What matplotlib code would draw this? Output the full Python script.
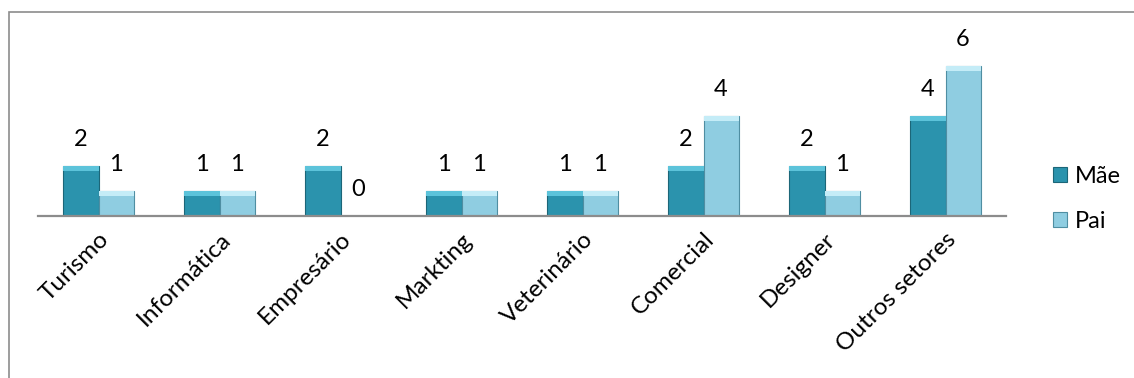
import numpy as np
import matplotlib.pyplot as plt
from matplotlib.patches import Rectangle

categorias = ['Turismo', 'Informática', 'Empresário', 'Markting', 'Veterinário',
              'Comercial', 'Designer', 'Outros setores']
mae = [2, 1, 2, 1, 1, 2, 2, 4]
pai = [1, 1, 0, 1, 1, 4, 1, 6]

cor_mae = '#2b93ad'
cor_pai = '#8fcde1'

plt.rcParams['font.family'] = ['Lato', 'DejaVu Sans']

fig = plt.figure(figsize=(11.34, 3.78), dpi=100)
ax = fig.add_axes([38/1134, 162/378, 968/1134, 175/378])

x = np.arange(len(categorias))
w = 0.29
b1 = ax.bar(x - w/2, mae, w, color=cor_mae, edgecolor='#1c6678', linewidth=0.8, label='Mãe')
b2 = ax.bar(x + w/2, pai, w, color=cor_pai, edgecolor='#4f8ea2', linewidth=0.8, label='Pai')

# leve efeito de bisel no topo das barras
for barras, clara in ((b1, '#5cc3da'), (b2, '#c4ecf7')):
    for r in barras:
        if r.get_height() > 0:
            ax.add_patch(Rectangle((r.get_x(), r.get_height() - 0.18), r.get_width(), 0.18,
                                   color=clara, linewidth=0, zorder=3))

for barras, vals in ((b1, mae), (b2, pai)):
    for r, v in zip(barras, vals):
        ax.annotate(str(v), (r.get_x() + r.get_width()/2, v), xytext=(0, 19),
                    textcoords='offset points', ha='center', va='center',
                    fontsize=17, annotation_clip=False)

ax.set_xlim(-0.5, len(categorias) - 0.5)
ax.set_ylim(0, 7)
ax.set_yticks([])
ax.set_xticks(x)
ax.set_xticklabels(categorias, rotation=45, ha='right', rotation_mode='anchor', fontsize=17.5)
ax.tick_params(axis='x', length=0, pad=9)
for s in ['top', 'right', 'left']:
    ax.spines[s].set_visible(False)
ax.spines['bottom'].set_color('#8c8c8c')
ax.spines['bottom'].set_linewidth(1.6)

fig.legend(handles=[b1, b2], loc='center left', bbox_to_anchor=(1032/1134, 179/378),
           frameon=False, fontsize=17, handlelength=0.6, handleheight=0.6,
           handletextpad=0.3, labelspacing=1.0)

fig.add_artist(Rectangle((9/1134, -0.1), 1.2, 0.1 + 366/378,
                         transform=fig.transFigure, fill=False, edgecolor='#8c8c8c',
                         linewidth=1.2, clip_on=False))

fig.savefig('out.png', dpi=100)
